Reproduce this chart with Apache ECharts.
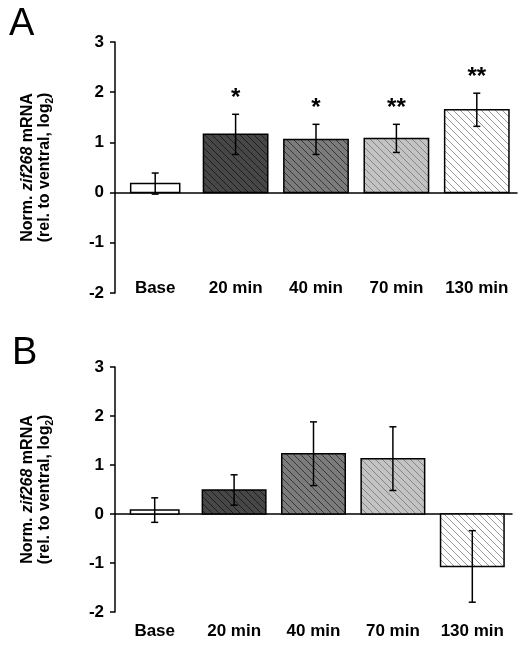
<!DOCTYPE html>
<html><head><meta charset="utf-8">
<script src="https://cdn.jsdelivr.net/npm/echarts@6/dist/echarts.min.js"></script>
<style>html,body{margin:0;padding:0;background:#fff}#c{width:526px;height:645px}</style>
</head><body><div id="c"></div>
<script>
// ---- data ----
const categories = ['Base', '20 min', '40 min', '70 min', '130 min'];
const valuesA = [0.18, 1.16, 1.06, 1.08, 1.65];
const errorsA = [0.21, 0.40, 0.30, 0.28, 0.33];
const signifA = ['', '*', '*', '**', '**'];
const valuesB = [0.08, 0.49, 1.23, 1.13, -1.07];
const errorsB = [0.25, 0.31, 0.65, 0.65, 0.73];
const signifB = ['', '', '', '', ''];
const yMin = -2, yMax = 3, yStep = 1;

// ---- styles ----
const FONT = '"Liberation Sans", Arial, Helvetica, sans-serif';
const barFills = [
  { bg: '#ffffff', line: null },
  { bg: '#474747', line: '#1e1e1e' },
  { bg: '#7c7c7c', line: '#383838' },
  { bg: '#c3c3c3', line: '#858585' },
  { bg: '#ffffff', line: '#9a9a9a' }
];
const barWidthFrac = [0.61, 0.80, 0.80, 0.80, 0.80];

function hatch(bg, line) {
  const s = 7;
  const c = document.createElement('canvas');
  c.width = s; c.height = s;
  const g = c.getContext('2d');
  g.fillStyle = bg; g.fillRect(0, 0, s, s);
  if (line) {
    g.strokeStyle = line; g.lineWidth = 1;
    g.beginPath();
    g.moveTo(-1, -1); g.lineTo(s + 1, s + 1);
    g.moveTo(-1, s - 1); g.lineTo(1, s + 1);
    g.moveTo(s - 1, -1); g.lineTo(s + 1, 1);
    g.stroke();
  }
  return c;
}
const patterns = barFills.map(f => ({ image: hatch(f.bg, f.line), repeat: 'repeat' }));

function makeRender(sig) {
  return function (params, api) {
    const i = api.value(0), v = api.value(1), e = api.value(2);
    const band = api.size([1, 0])[0];
    const w = band * barWidthFrac[i];
    const base = api.coord([i, 0]);
    const top = api.coord([i, v]);
    const eHi = api.coord([i, v + e]);
    const eLo = api.coord([i, v - e]);
    const x = base[0];
    const y0 = Math.min(base[1], top[1]);
    const h = Math.abs(base[1] - top[1]);
    const ln = { stroke: '#000', lineWidth: 1.5 };
    const cap = 3.5;
    const children = [
      { type: 'rect', shape: { x: x - w / 2, y: y0, width: w, height: h },
        style: { fill: patterns[i], stroke: '#000', lineWidth: 1.5 } },
      { type: 'line', shape: { x1: x, y1: eHi[1], x2: x, y2: eLo[1] }, style: ln },
      { type: 'line', shape: { x1: x - cap, y1: eHi[1], x2: x + cap, y2: eHi[1] }, style: ln },
      { type: 'line', shape: { x1: x - cap, y1: eLo[1], x2: x + cap, y2: eLo[1] }, style: ln }
    ];
    if (sig[i]) {
      children.push({ type: 'text', x: x, y: eHi[1] - 16,
        style: { text: sig[i], fontSize: 24, fontWeight: 'bold', fontFamily: FONT,
                 fill: '#000', align: 'center', verticalAlign: 'middle' } });
    }
    return { type: 'group', children };
  };
}

const nameText = 'Norm. {i|zif268} mRNA\n(rel. to ventral, log{sub|2})';
const nameStyle = {
  fontSize: 16, fontWeight: 'bold', fontFamily: FONT, color: '#000', lineHeight: 17,
  rich: {
    i: { fontSize: 16, fontWeight: 'bold', fontStyle: 'italic', fontFamily: FONT, color: '#000', lineHeight: 17 },
    sub: { fontSize: 10, fontWeight: 'bold', fontFamily: FONT, color: '#000',
           verticalAlign: 'top', lineHeight: 8, padding: [9, 0, 0, 0] }
  }
};

function xLabelAxis(gi, margin) {
  return { gridIndex: gi, type: 'category', data: categories, position: 'bottom',
    axisLine: { show: false, onZero: false }, axisTick: { show: false },
    axisLabel: { interval: 0, margin: margin, verticalAlign: 'middle', fontSize: 17,
                 fontWeight: 'bold', color: '#000', fontFamily: FONT } };
}
function xZeroAxis(gi) {
  return { gridIndex: gi, type: 'category', data: categories, position: 'bottom',
    axisLine: { show: true, onZero: true, lineStyle: { color: '#000', width: 1.5 } },
    axisTick: { show: false }, axisLabel: { show: false } };
}
function yAxisDef(gi) {
  return { gridIndex: gi, type: 'value', min: yMin, max: yMax, interval: yStep,
    axisLine: { show: true, lineStyle: { color: '#000', width: 1.5 } },
    axisTick: { show: true, length: 5, lineStyle: { color: '#000', width: 1.5 } },
    splitLine: { show: false },
    axisLabel: { margin: 11, fontSize: 17, fontWeight: 'bold', color: '#000', fontFamily: FONT },
    name: nameText, nameLocation: 'middle', nameGap: 62, nameTextStyle: nameStyle };
}

const chart = echarts.init(document.getElementById('c'), null, { renderer: 'canvas' });
chart.setOption({
  animation: false,
  backgroundColor: '#fff',
  title: [
    { text: 'A', left: 9, top: 6, padding: 0, textStyle: { fontSize: 38, fontWeight: 'normal', color: '#000', fontFamily: FONT } },
    { text: 'B', left: 12, top: 335, padding: 0, textStyle: { fontSize: 38, fontWeight: 'normal', color: '#000', fontFamily: FONT } }
  ],
  grid: [
    { left: 115, right: 9, top: 42, bottom: 352 },
    { left: 115, right: 14, top: 367, bottom: 33 }
  ],
  xAxis: [xLabelAxis(0, -4.5), xZeroAxis(0), xLabelAxis(1, 19), xZeroAxis(1)],
  yAxis: [yAxisDef(0), yAxisDef(1)],
  series: [
    { type: 'custom', xAxisIndex: 0, yAxisIndex: 0, renderItem: makeRender(signifA),
      data: valuesA.map((v, i) => [i, v, errorsA[i]]), encode: { x: 0, y: 1 } },
    { type: 'custom', xAxisIndex: 2, yAxisIndex: 1, renderItem: makeRender(signifB),
      data: valuesB.map((v, i) => [i, v, errorsB[i]]), encode: { x: 0, y: 1 } }
  ]
});
</script></body></html>
